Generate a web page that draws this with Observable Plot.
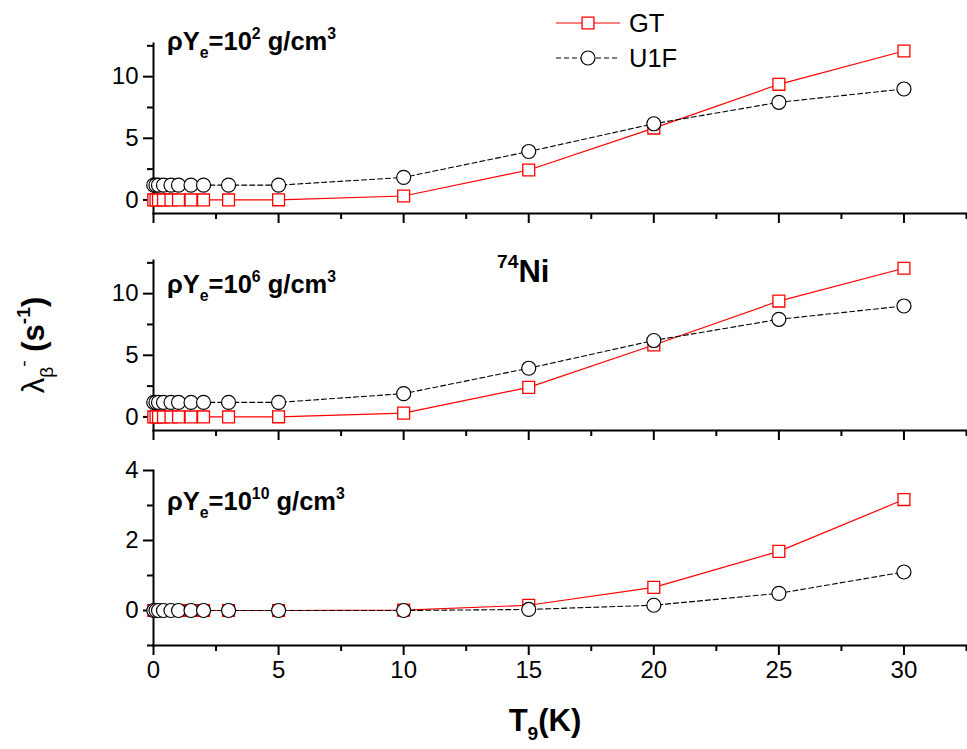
<!DOCTYPE html>
<html><head><meta charset="utf-8">
<script src="https://cdn.jsdelivr.net/npm/d3@7"></script>
<script src="https://cdn.jsdelivr.net/npm/@observablehq/plot@0.6"></script>
<style>
body{margin:0;background:#fff;font-family:"Liberation Sans",Arial,sans-serif;}
#wrap{position:relative;width:967px;height:749px;overflow:hidden;}
.panel{position:absolute;left:0;}
#overlay{position:absolute;left:0;top:0;pointer-events:none;}
</style></head><body><div id="wrap"></div>
<script>
// ---- data ----
const T9 = [0.01, 0.1, 0.2, 0.4, 0.7, 1, 1.5, 2, 3, 5, 10, 15, 20, 25, 30];
const gt_1e2   = [0, 0, 0, 0, 0, 0, 0, 0, 0, 0.01, 0.32, 2.43, 5.83, 9.38, 12.08];
const u1f_1e2  = [1.2, 1.2, 1.2, 1.2, 1.2, 1.2, 1.2, 1.2, 1.2, 1.2, 1.83, 3.93, 6.18, 7.92, 9.0];
const gt_1e6   = [0, 0, 0, 0, 0, 0, 0, 0, 0, 0.01, 0.31, 2.4, 5.84, 9.4, 12.06];
const u1f_1e6  = [1.18, 1.18, 1.18, 1.18, 1.18, 1.18, 1.18, 1.18, 1.18, 1.18, 1.89, 3.95, 6.2, 7.92, 9.0];
const gt_1e10  = [0, 0, 0, 0, 0, 0, 0, 0, 0, 0, 0.01, 0.15, 0.66, 1.69, 3.17];
const u1f_1e10 = [0, 0, 0, 0, 0, 0, 0, 0, 0, 0, 0, 0.03, 0.15, 0.49, 1.1];
const xMajor = [0, 5, 10, 15, 20, 25, 30];
const xMinor = [2.5, 7.5, 12.5, 17.5, 22.5, 27.5, 32.5];
const densityExp = ["2", "6", "10"];

const panels = [
  {gt: gt_1e2, u1f: u1f_1e2, dom: [-1.1, 12.69], yMajor: [0, 5, 10], yMinor: [2.5, 7.5, 12.5], top: 0, mt: 43, ph: 170, mb: 12, labels: false},
  {gt: gt_1e6, u1f: u1f_1e6, dom: [-1.1, 12.69], yMajor: [0, 5, 10], yMinor: [2.5, 7.5, 12.5], top: 225, mt: 35, ph: 170, mb: 12, labels: false},
  {gt: gt_1e10, u1f: u1f_1e10, dom: [-1, 4], yMajor: [0, 2, 4], yMinor: [-1, 1, 3], top: 442, mt: 28, ph: 175, mb: 46, labels: true}
];

const wrap = document.getElementById("wrap");
const RED = "#ff0000";

panels.forEach(p => {
  const gt = T9.map((t, i) => ({t, v: p.gt[i]}));
  const u1 = T9.map((t, i) => ({t, v: p.u1f[i]}));
  const chart = Plot.plot({
    width: 967,
    height: p.mt + p.ph + p.mb,
    marginLeft: 153,
    marginRight: 1,
    marginTop: p.mt,
    marginBottom: p.mb,
    style: {fontFamily: "Liberation Sans, Arial, sans-serif", fontSize: "24px", color: "#000", background: "transparent", overflow: "visible"},
    x: {domain: [0, 32.5]},
    y: {domain: p.dom},
    marks: [
      Plot.axisY({ticks: p.yMajor, tickSize: 10, tickPadding: 5, strokeWidth: 2, fontSize: 24, label: null, tickFormat: d => String(d)}),
      Plot.axisY({ticks: p.yMinor, tickSize: 6, strokeWidth: 2, text: null, label: null}),
      Plot.axisX({ticks: xMajor, tickSize: 10, tickPadding: 5, strokeWidth: 2, fontSize: 24, label: null, text: p.labels ? undefined : null, tickFormat: d => String(d)}),
      Plot.axisX({ticks: xMinor, tickSize: 6, strokeWidth: 2, text: null, label: null}),
      Plot.frame({anchor: "left", strokeWidth: 2}),
      Plot.frame({anchor: "bottom", strokeWidth: 2}),
      Plot.line(gt, {x: "t", y: "v", stroke: RED, strokeWidth: 1.2}),
      Plot.line(u1, {x: "t", y: "v", stroke: "#000", strokeWidth: 1.1, strokeDasharray: "5,3"}),
      Plot.dot(gt, {x: "t", y: "v", symbol: "square", r: 6.7, stroke: RED, strokeWidth: 1.3, fill: "#fff"}),
      Plot.dot(u1, {x: "t", y: "v", symbol: "circle", r: 7, stroke: "#000", strokeWidth: 1.2, fill: "#fff"})
    ]
  });
  chart.classList.add("panel");
  chart.style.top = p.top + "px";
  wrap.appendChild(chart);
});

// ---- overlay text: annotations, legend, axis titles ----
const ov = d3.select(wrap).append("svg").attr("id", "overlay").attr("width", 967).attr("height", 749);
const FF = "Liberation Sans, Arial, sans-serif";

function rich(x, y, parts, size, weight, anchor, rotate) {
  const t = ov.append("text").attr("x", x).attr("y", y)
    .attr("font-family", FF).attr("font-size", size).attr("font-weight", weight || "normal")
    .attr("text-anchor", anchor || "start");
  if (rotate) t.attr("transform", `rotate(${rotate} ${x} ${y})`);
  let off = 0;
  parts.forEach(([s, k, w]) => {
    let target = 0, fs = size;
    if (k === "sub") { target = size * 0.3; fs = size * 0.62; }
    if (k === "sup") { target = -size * 0.45; fs = size * 0.62; }
    const ts = t.append("tspan").attr("dy", target - off).attr("font-size", fs).text(s);
    if (w) ts.attr("font-weight", w);
    off = target;
  });
  return t;
}

const annY = [50, 293, 510];
densityExp.forEach((e, i) => {
  rich(167, annY[i], [["\u03C1Y"], ["e", "sub"], ["=10"], [e, "sup"], [" g/cm"], ["3", "sup"]], 25.5, "bold");
});
rich(497, 282, [["74", "sup"], ["Ni"]], 31, "bold");

// legend
const sq = d3.symbol(d3.symbolSquare, Math.PI * 6.7 * 6.7)();
const ci = d3.symbol(d3.symbolCircle, Math.PI * 7 * 7)();
ov.append("line").attr("x1", 556).attr("x2", 620).attr("y1", 23).attr("y2", 23).attr("stroke", RED).attr("stroke-width", 1.2);
ov.append("path").attr("d", sq).attr("transform", "translate(588,23)").attr("fill", "#fff").attr("stroke", RED).attr("stroke-width", 1.3);
ov.append("line").attr("x1", 556).attr("x2", 620).attr("y1", 58).attr("y2", 58).attr("stroke", "#000").attr("stroke-width", 1.1).attr("stroke-dasharray", "5,3");
ov.append("path").attr("d", ci).attr("transform", "translate(588,58)").attr("fill", "#fff").attr("stroke", "#000").attr("stroke-width", 1.2);
rich(629, 32, [["GT"]], 25.5, "normal");
rich(629, 67, [["U1F"]], 25.5, "normal");

// axis titles
rich(545, 731, [["T"], ["9", "sub"], ["(K)"]], 31, "bold", "middle");
rich(44, 345, [["\u03BB", null, "normal"], ["\u03B2", "sub", "normal"], ["-", "sup", "normal"], [" (s", null, "bold"], ["-1", "sup", "bold"], [")", null, "bold"]], 31, "bold", "middle", -90);
</script></body></html>
